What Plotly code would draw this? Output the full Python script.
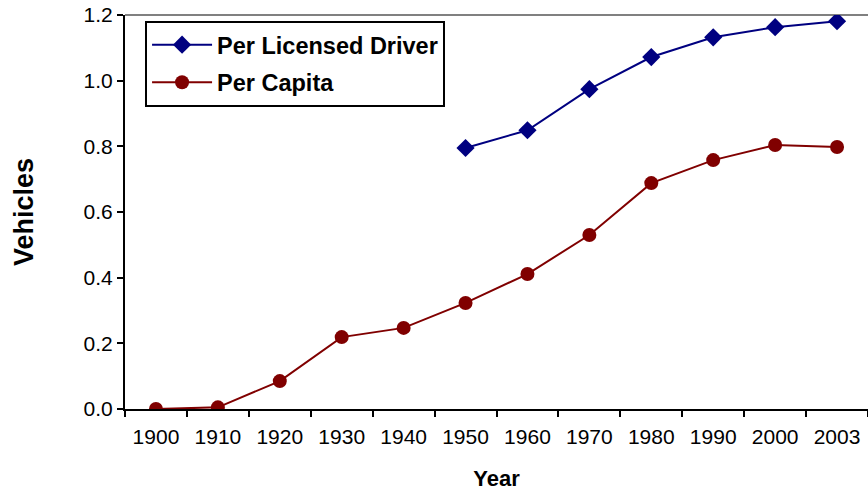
import plotly.graph_objects as go

# Vehicles per licensed driver and per capita, US
years = ['1900', '1910', '1920', '1930', '1940', '1950',
         '1960', '1970', '1980', '1990', '2000', '2003']
per_driver = [None, None, None, None, None, 0.795,
              0.849, 0.974, 1.072, 1.132, 1.163, 1.181]
per_capita = [0.0, 0.005, 0.085, 0.219, 0.247, 0.323,
              0.411, 0.530, 0.688, 0.758, 0.804, 0.798]

fig = go.Figure()

fig.add_trace(go.Scatter(
    x=years, y=per_driver, name='<b>Per Licensed Driver</b>',
    mode='lines+markers', legendgroup='a',
    line=dict(color='#000080', width=2),
    marker=dict(symbol='diamond', size=14, color='#000080'),
))
fig.add_trace(go.Scatter(
    x=years, y=per_capita, name='<b>Per Capita</b>',
    mode='lines+markers', legendgroup='b',
    line=dict(color='#800000', width=2),
    marker=dict(symbol='circle', size=14, color='#800000'),
))

# gray top border of the plot area
fig.add_shape(type='line', xref='paper', yref='paper', x0=0, x1=1, y0=1, y1=1,
              line=dict(color='#808080', width=2), layer='below')

fig.update_layout(
    width=868, height=491,
    margin=dict(l=125, r=0, t=15, b=82),
    plot_bgcolor='white',
    paper_bgcolor='white',
    font=dict(family='Arial, Liberation Sans, sans-serif', size=21, color='black'),
    xaxis=dict(
        type='category',
        title=dict(text='<b>Year</b>', font=dict(size=22), standoff=24),
        showgrid=False,
        showline=True, linecolor='black', linewidth=2,
        ticks='outside', ticklen=6, tickcolor='black', tickwidth=2,
        tickson='boundaries', ticklabelstandoff=8,
        range=[-0.5, 11.5],
    ),
    yaxis=dict(
        title=dict(text='<b>Vehicles</b>', font=dict(size=27), standoff=42),
        range=[0, 1.2],
        dtick=0.2, tickformat='.1f',
        showgrid=False, zeroline=False,
        showline=True, linecolor='black', linewidth=2,
        ticks='outside', ticklen=6, tickcolor='black', tickwidth=2,
    ),
    showlegend=True,
    legend=dict(
        x=0.027, y=0.985, xanchor='left', yanchor='top',
        bordercolor='black', borderwidth=2, bgcolor='white',
        font=dict(size=23.5), traceorder='grouped', tracegroupgap=4,
        itemwidth=60,
    ),
)

# drop the default 8px page margin so the figure fills the window
fig.write_html("out.html", config={'displayModeBar': False},
               post_script="document.body.style.margin='0';")
